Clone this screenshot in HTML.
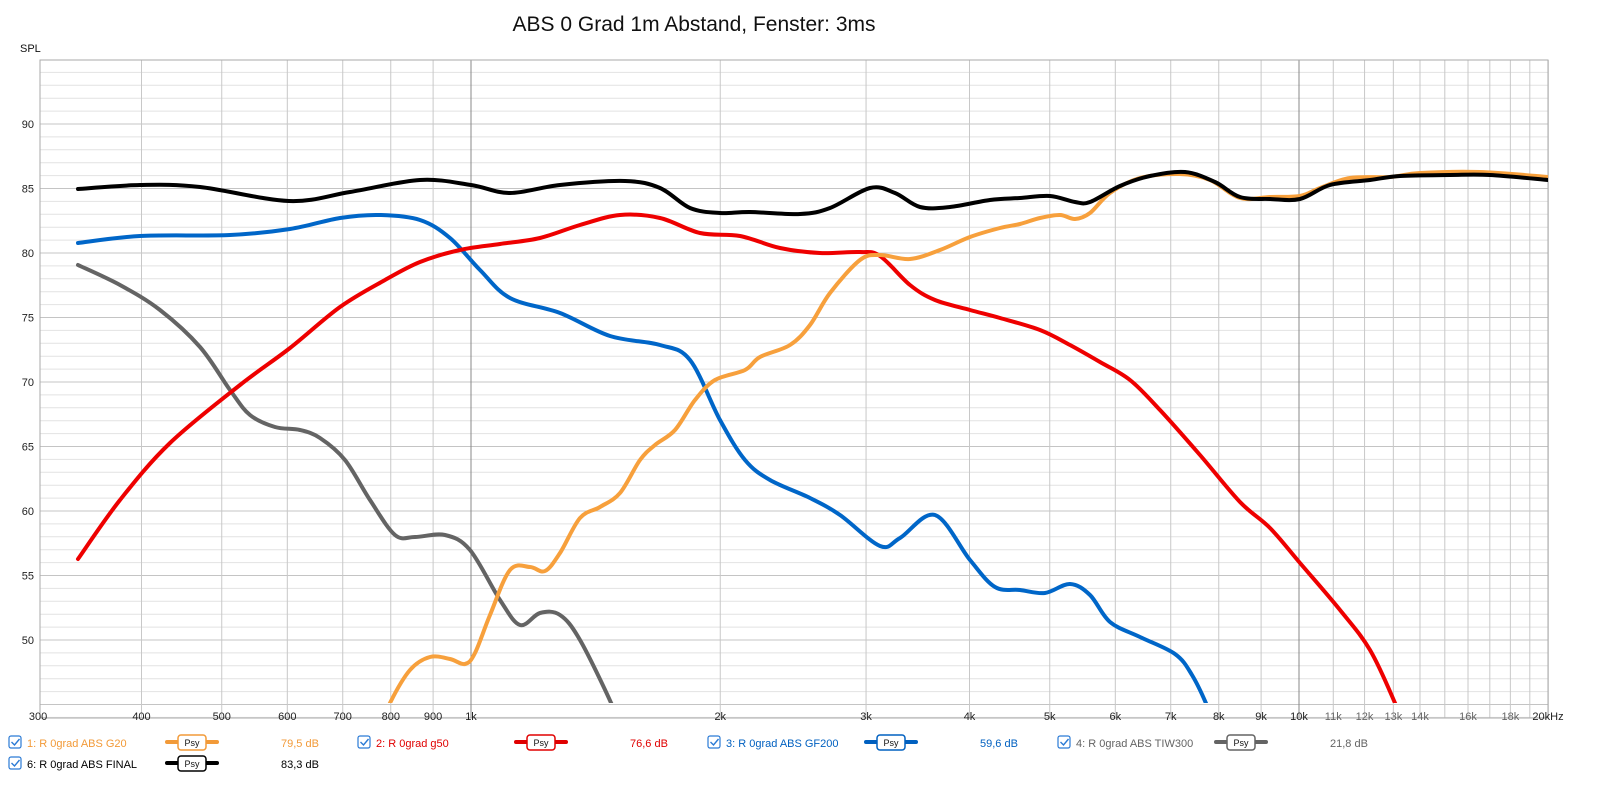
<!DOCTYPE html>
<html><head><meta charset="utf-8"><style>
body{margin:0;background:#fff;font-family:"Liberation Sans",sans-serif;}
svg{display:block}
</style></head><body>
<svg id="s" width="1600" height="790" xmlns="http://www.w3.org/2000/svg" font-family="Liberation Sans, sans-serif">
<text x="694" y="31" font-size="21" text-anchor="middle" fill="#111">ABS 0 Grad 1m Abstand, Fenster: 3ms</text>
<text x="20" y="52" font-size="11" fill="#111">SPL</text>
<g id="grid"></g><g id="curves"></g><g id="leg"></g>
</svg>
<script>
const NS="http://www.w3.org/2000/svg";
function el(p,t,a,txt){const e=document.createElementNS(NS,t);for(const k in a)e.setAttribute(k,a[k]);if(txt!==undefined)e.textContent=txt;p.appendChild(e);return e;}
const g=document.getElementById('grid'),L=40,R=1548,T=60,B=718;
const X=f=>471+828*Math.log10(f/1000), Y=d=>124+(90-d)*12.9;
for(let d=44;d<=95;d++){const y=Y(d);if(y<T||y>B)continue;el(g,'line',{x1:L,x2:R,y1:y,y2:y,stroke:d%5==0?'#c4c4c4':'#e2e2e2','stroke-width':1});}
for(let d=50;d<=90;d+=5)el(g,'text',{x:34,y:Y(d)+4,'font-size':11,'text-anchor':'end',fill:'#222'},String(d));
const fr=[];for(let f=400;f<=1000;f+=100)fr.push(f);for(let f=2000;f<=20000;f+=1000)fr.push(f);
fr.forEach(f=>{const x=X(f);el(g,'line',{x1:x,x2:x,y1:T,y2:B,stroke:(f==1000||f==10000)?'#888':'#c8c8c8','stroke-width':1});});
el(g,'rect',{x:L,y:T,width:R-L,height:B-T,fill:'none',stroke:'#aaa'});
const lab=[[300,'300'],[400,'400'],[500,'500'],[600,'600'],[700,'700'],[800,'800'],[900,'900'],[1000,'1k'],[2000,'2k'],[3000,'3k'],[4000,'4k'],[5000,'5k'],[6000,'6k'],[7000,'7k'],[8000,'8k'],[9000,'9k'],[10000,'10k'],[11000,'11k'],[12000,'12k'],[13000,'13k'],[14000,'14k'],[16000,'16k'],[18000,'18k']];
lab.forEach(([f,t])=>el(g,'text',{x:X(f),y:720,'font-size':11,'text-anchor':'middle',fill:f>10000?'#666':'#222'},t));
el(g,'text',{x:1548,y:720,'font-size':11,'text-anchor':'middle',fill:'#222'},'20kHz');
const c=document.getElementById('curves');
el(document.getElementById('s'),'defs',{}).innerHTML='<clipPath id="cp"><rect x="40" y="60" width="1508" height="643"/></clipPath>';
c.setAttribute('clip-path','url(#cp)');
function path(p){let d='M'+p[0][0]+','+p[0][1];for(let i=0;i<p.length-1;i++){const p0=p[i-1]||p[i],p1=p[i],p2=p[i+1],p3=p[i+2]||p2;d+=' C'+(p1[0]+(p2[0]-p0[0])/6)+','+(p1[1]+(p2[1]-p0[1])/6)+' '+(p2[0]-(p3[0]-p1[0])/6)+','+(p2[1]-(p3[1]-p1[1])/6)+' '+p2[0]+','+p2[1];}return d;}
const gray=[[78,265],[120,285],[160,310],[200,347],[230,390],[250,415],[275,427],[300,430],[320,438],[345,460],[370,500],[395,535],[415,537],[445,535],[470,550],[500,600],[520,625],[540,613],[560,615],[580,640],[612,705],[620,730]];
const blue=[[78,243],[140,236],[230,235],[290,229],[340,218],[380,215],[420,220],[450,238],[480,270],[510,298],[560,313],[610,336],[660,345],[690,360],[720,420],[745,460],[770,480],[810,498],[840,515],[880,546],[900,538],[935,515],[970,560],[995,587],[1020,590],[1045,593],[1070,584],[1090,595],[1110,622],[1140,637],[1175,654],[1192,675],[1208,708],[1215,730]];
const red=[[78,559],[120,500],[170,443],[240,385],[290,348],[340,307],[385,280],[420,262],[460,250],[500,244],[540,238],[580,225],[620,215],[660,218],[700,233],[740,236],[780,248],[820,253],[860,252],[880,256],[910,285],[935,300],[970,310],[1000,318],[1040,330],[1070,345],[1100,362],[1130,380],[1160,410],[1200,455],[1240,502],[1270,528],[1300,563],[1340,610],[1370,650],[1395,703],[1405,730]];
const orange=[[380,730],[390,703],[410,670],[430,657],[450,659],[465,664],[475,653],[490,615],[510,570],[530,567],[545,571],[560,553],[580,518],[600,507],[620,493],[640,460],[655,445],[675,430],[695,400],[715,380],[745,370],[760,357],[790,345],[810,325],[830,293],[860,260],[880,255],[910,259],[940,250],[970,237],[1000,228],[1020,224],[1040,218],[1060,215],[1075,219],[1090,213],[1110,193],[1140,178],[1180,174],[1210,180],[1240,198],[1270,197],[1300,196],[1320,188],[1350,178],[1390,177],[1420,173],[1480,172],[1548,177]];
const black=[[78,189],[140,185],[200,187],[289,201],[350,192],[420,180],[471,185],[510,193],[560,185],[625,181],[660,188],[690,208],[720,213],[750,212],[800,214],[830,208],[870,188],[895,193],[920,207],[950,207],[990,200],[1020,198],[1050,196],[1075,202],[1090,202],[1120,186],[1150,176],[1185,172],[1215,182],[1240,197],[1270,199],[1300,199],[1330,185],[1370,180],[1400,176],[1450,175],[1490,175],[1548,180]];
[[gray,'#646464'],[blue,'#0066c8'],[red,'#ee0000'],[orange,'#f7a03c'],[black,'#000']].forEach(([p,col])=>el(c,'path',{d:path(p),fill:'none',stroke:col,'stroke-width':4,'stroke-linejoin':'round','stroke-linecap':'round'}));
const lg=document.getElementById('leg');
function item(x,y,name,col,val){
 el(lg,'rect',{x:x,y:y-10,width:12,height:12,rx:2,fill:'#fff',stroke:'#2a7ad5','stroke-width':1.2});
 el(lg,'path',{d:`M${x+2.5},${y-4} l3,3 l5,-6`,fill:'none',stroke:'#2a7ad5','stroke-width':1.4});
 el(lg,'text',{x:x+18,y:y+1,'font-size':11,fill:col},name);
 el(lg,'line',{x1:x+158,x2:x+208,y1:y-4,y2:y-4,stroke:col,'stroke-width':4,'stroke-linecap':'round'});
 el(lg,'rect',{x:x+169,y:y-11,width:28,height:15,rx:3,fill:'#fff',stroke:col,'stroke-width':1.5});
 el(lg,'text',{x:x+183,y:y,'font-size':9,'text-anchor':'middle',fill:'#111'},'Psy');
 el(lg,'text',{x:x+272,y:y+1,'font-size':11,fill:col},val);
}
item(9,746,'1: R 0grad ABS G20','#f29a38','79,5 dB');
item(358,746,'2: R 0grad g50','#e00000','76,6 dB');
item(708,746,'3: R 0grad ABS GF200','#0060c0','59,6 dB');
item(1058,746,'4: R 0grad ABS TIW300','#646464','21,8 dB');
item(9,767,'6: R 0grad ABS FINAL','#000','83,3 dB');
</script>
</body></html>
